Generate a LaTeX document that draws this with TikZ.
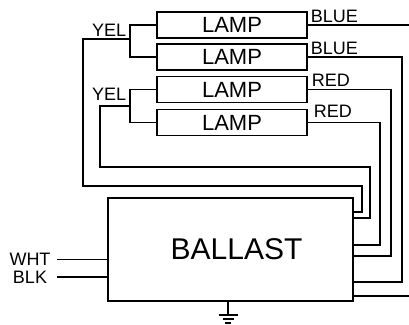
\documentclass[tikz,border=0pt]{standalone}
\usepackage{fontspec}
\setmainfont{Liberation Sans}
\begin{document}
\begin{tikzpicture}[x=1pt, y=-1pt, line width=1.6pt,
  lamp/.style={draw, minimum width=150pt, minimum height=26pt, inner sep=0pt, outer sep=0pt, font=\fontsize{22}{22}\selectfont},
  lbl/.style={inner sep=0pt, font=\fontsize{18}{18}\selectfont}]
\useasboundingbox (0,0) rectangle (409,324);
\node[lamp] (l1) at (232,25) {LAMP} ;
\node[lamp] (l2) at (232,57) {LAMP} ;
\node[lamp] (l3) at (232,89.5) {LAMP} ;
\node[lamp] (l4) at (232,122.5) {LAMP} ;

\node[draw, minimum width=245pt, minimum height=103pt, inner sep=0pt, outer sep=0pt, font=\fontsize{30}{30}\selectfont] (bal) at (230.5,249.5) {\hspace*{12pt}BALLAST} ;

\node[lbl, anchor=base west] (blue1) at (310,22) {BLUE} ;
\node[lbl, anchor=base west] (blue2) at (310,54) {BLUE} ;
\node[lbl, anchor=base west] (red1) at (311,86) {RED} ;
\node[lbl, anchor=base west] (red2) at (313,117) {RED} ;
\node[lbl, anchor=base east] (yel1) at (127,36) {YEL} ;
\node[lbl, anchor=base east] (yel2) at (127,100) {YEL} ;
\node[lbl, anchor=base] (wht) at (30,265.5) {WHT} ;
\node[lbl, anchor=base] (blk) at (30,283) {BLK} ;

\coordinate (y1) at (130,39);
\coordinate (y2) at (130,106);
\coordinate (gnd) at (228,315);

% yellow leads
\draw (l1.west) -| (y1) |- (l2.west);
\draw (y1) -| (83,186) -| (362,212) -- (bal.east |- 362,212);
\draw (l3.west) -| (y2) |- (l4.west);
\draw (y2) -| (100,167) -| (370,218) -- (bal.east |- 370,218);

% blue and red leads
\draw (l1.east) -- (l1.east -| 409,0);
\draw (l2.east) -| (402,282) -- (bal.east |- 402,282);
\draw (l3.east) -| (391,256) -- (bal.east |- 391,256);
\draw (l4.east) -| (380,245) -- (bal.east |- 380,245);
\draw (bal.east |- 0,296) -- (409,296);

\draw (bal.west |- wht) -- ++(-51,0);
\draw (bal.west |- blk) -- ++(-51,0);

\draw (bal.south -| gnd) -- (gnd);
\draw ([xshift=-9.5pt]gnd) -- ([xshift=9.5pt]gnd);
\draw ([xshift=-5.5pt,yshift=-4pt]gnd) -- ([xshift=5.5pt,yshift=-4pt]gnd);
\draw ([xshift=-3pt,yshift=-8pt]gnd) -- ([xshift=3pt,yshift=-8pt]gnd);
%\draw[help lines] (0,0) grid (409,324);
\end{tikzpicture}
\end{document}
